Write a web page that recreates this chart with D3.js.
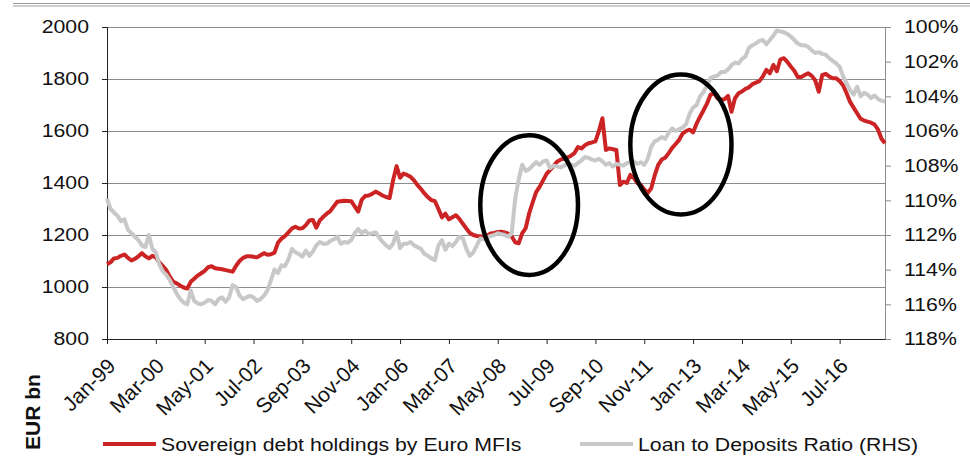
<!DOCTYPE html>
<html>
<head>
<meta charset="utf-8">
<script src="https://cdnjs.cloudflare.com/ajax/libs/d3/7.8.5/d3.min.js"></script>
<style>
body { margin: 0; background: #fff; }
text { font-family: "Liberation Sans", Arial, sans-serif; fill: #111; }
</style>
</head>
<body>
<div id="graph"></div>
<script>
// monthly, Jan-99 .. Aug-17
var startMonth = new Date(1999, 0, 1);
var months = d3.timeMonth.range(startMonth, new Date(2017, 8, 1)).map(d3.timeFormat('%b-%y'));

var tickLabels = ['Jan-99', 'Mar-00', 'May-01', 'Jul-02', 'Sep-03', 'Nov-04', 'Jan-06', 'Mar-07',
  'May-08', 'Jul-09', 'Sep-10', 'Nov-11', 'Jan-13', 'Mar-14', 'May-15', 'Jul-16'];
var leftTicks = [800, 1000, 1200, 1400, 1600, 1800, 2000];
var rightTicks = [100, 102, 104, 106, 108, 110, 112, 114, 116, 118];

// Sovereign debt holdings by Euro MFIs, EUR bn
var sovereign = [
  1088, 1095, 1110, 1112, 1120, 1125, 1112, 1102, 1108, 1118, 1130, 1118,
  1110, 1120, 1114, 1095, 1080, 1065, 1040, 1020, 1014, 1005, 998, 994,
  1020, 1032, 1044, 1053, 1062, 1076, 1080, 1072, 1070, 1068, 1065, 1062,
  1059, 1082, 1100, 1112, 1118, 1118, 1116, 1114, 1122, 1130, 1124, 1126,
  1132, 1170, 1186, 1196, 1210, 1225, 1232, 1225, 1226, 1238, 1256, 1258,
  1228, 1256, 1270, 1282, 1292, 1310, 1328, 1330, 1332, 1331, 1330, 1310,
  1290, 1335, 1350, 1352, 1358, 1367, 1360, 1352, 1346, 1342, 1410, 1465,
  1420, 1436, 1431, 1424, 1410, 1392, 1377, 1360, 1345, 1334, 1330, 1300,
  1268, 1282, 1260, 1268, 1276, 1262, 1243, 1225, 1208, 1200, 1196, 1195,
  1192, 1198, 1206, 1208, 1212, 1213, 1210, 1205, 1194, 1172, 1168, 1206,
  1226, 1283, 1325, 1365, 1385, 1410, 1435, 1450, 1465, 1482, 1490, 1494,
  1498, 1505, 1515, 1538, 1533, 1545, 1553, 1556, 1560, 1600, 1649, 1527,
  1533, 1530, 1527, 1392, 1405, 1400, 1431, 1420, 1400, 1392, 1375, 1362,
  1380, 1430, 1470, 1490, 1497, 1515, 1535, 1550, 1566, 1590, 1600, 1605,
  1595, 1628, 1655, 1680, 1706, 1740, 1745, 1725, 1720, 1722, 1735, 1674,
  1726, 1745, 1752, 1762, 1768, 1780, 1786, 1792, 1810, 1835, 1822, 1854,
  1830, 1875, 1880, 1866, 1848, 1832, 1808, 1808, 1815, 1822, 1812, 1795,
  1751, 1815, 1820, 1810, 1803, 1803, 1792, 1775, 1745, 1712, 1690, 1668,
  1647, 1640, 1636, 1632, 1625, 1605, 1570, 1553
];

// Loan to Deposits Ratio (RHS), %
var ltd = [
  109.9, 110.5, 110.7, 110.9, 111.2, 111.1, 111.7, 111.9, 112.1, 112.3, 112.6, 112.7,
  112.0, 112.8, 113.0, 113.7, 114.1, 114.3, 114.6, 115.0, 115.4, 115.7, 115.9, 116.0,
  115.2, 115.8, 115.95, 116.0, 115.9, 115.75, 115.8, 116.0, 115.7, 115.6, 115.85, 115.6,
  114.9, 115.0, 115.5, 115.7, 115.6, 115.5, 115.6, 115.8, 115.7, 115.5, 115.2, 114.6,
  114.0, 114.2, 113.75, 113.8, 113.4, 112.8, 113.0, 113.1, 113.25, 112.9, 113.2, 112.95,
  112.6, 112.4, 112.5, 112.5, 112.35, 112.25, 112.1, 112.5, 112.4, 112.45, 112.3, 111.9,
  111.65, 111.9, 111.75, 111.95, 111.9, 111.85, 112.15, 112.4, 112.6, 112.75, 112.5, 111.85,
  112.75, 112.5, 112.5, 112.4, 112.6, 112.7, 112.8, 113.1, 113.2, 113.35, 113.45, 112.6,
  112.3, 112.85, 112.5, 112.65, 112.4, 112.1, 112.2, 112.8, 113.2, 113.0, 112.6, 112.2,
  112.25, 112.15, 112.05, 112.0, 111.9, 111.95, 112.0, 112.1, 111.9, 109.9, 108.8, 107.95,
  108.3, 108.2, 108.0, 107.8, 107.95, 107.75, 107.7, 108.15, 108.0, 108.05, 108.1, 108.0,
  107.9, 107.95, 108.0, 107.85, 107.7, 107.5, 107.55, 107.65, 107.7, 107.6, 107.75, 107.95,
  107.85, 108.05, 107.9, 107.95, 108.0, 107.85, 107.8, 107.75, 107.9, 107.8, 107.95, 107.6,
  106.9, 106.6, 106.5, 106.35, 106.45, 106.1, 105.85, 106.0, 105.9, 105.8, 105.6, 105.0,
  104.65, 104.5, 104.0, 103.75, 103.35, 102.95, 102.85, 102.8, 102.6, 102.6, 102.45, 102.2,
  102.05, 102.1, 101.85, 101.7, 101.2, 101.05, 100.95, 100.8, 100.75, 101.0, 100.75, 100.5,
  100.2, 100.25, 100.3, 100.4, 100.55, 100.75, 100.95, 101.05, 101.05, 101.15, 101.35, 101.5,
  101.45, 101.55, 101.6, 101.8, 101.95, 102.1, 102.3, 102.85, 103.25, 103.65, 103.9, 103.45,
  104.0, 103.8, 103.9, 104.1, 103.95, 104.15, 104.25, 104.3
];

// periods circled on the chart: month range and EUR bn range
var highlights = [
  {from: 'Dec-07', to: 'Apr-10', low: 1046, high: 1584},
  {from: 'Jul-11', to: 'Dec-13', low: 1279, high: 1817}
];

var svgWidth = 970, svgHeight = 456,
  margin = {top: 27, right: 85, bottom: 117, left: 107},
  width = svgWidth - margin.left - margin.right,
  height = svgHeight - margin.top - margin.bottom,
  sx = 1.15; // text is drawn a bit wide in the original

var svg = d3.select('#graph').append('svg').attr('width', svgWidth).attr('height', svgHeight);

// double rule at the top
svg.selectAll('.rule').data([3.5, 6]).enter().append('line')
  .attr('x1', 13).attr('x2', svgWidth).attr('y1', function(d) { return d; }).attr('y2', function(d) { return d; })
  .attr('stroke', '#9a9a9a').attr('stroke-width', 1);

var g = svg.append('g').attr('transform', 'translate(' + margin.left + ',' + margin.top + ')');

var x = d3.scalePoint().domain(months).range([0, width]);
var xi = function(m) { return x(m); };
var y = d3.scaleLinear().domain([800, 2000]).range([height, 0]);
var y2 = d3.scaleLinear().domain([100, 118]).range([0, height]);

// gridlines
g.selectAll('.grid').data(leftTicks.slice(1)).enter().append('line')
  .attr('x1', 0).attr('x2', width)
  .attr('y1', function(d) { return y(d) + 0.5; }).attr('y2', function(d) { return y(d) + 0.5; })
  .attr('stroke', '#8c8c8c').attr('stroke-width', 1);

// left axis
var ax = g.append('g').attr('class', 'axis axis-y')
  .call(d3.axisLeft(y).tickValues(leftTicks).tickSize(5).tickPadding(13).tickFormat(d3.format('d')));
ax.select('.domain').attr('stroke', '#222');
ax.selectAll('.tick line').attr('stroke', '#222');
ax.selectAll('text').attr('x', -18 / sx).attr('transform', 'scale(' + sx + ',1)')
  .style('font-size', '18.5px').style('font-family', '"Liberation Sans", Arial, sans-serif').attr('fill', '#111');

// right axis
var ar = g.append('g').attr('class', 'axis axis-y2').attr('transform', 'translate(' + width + ',0)')
  .call(d3.axisRight(y2).tickValues(rightTicks).tickSize(6).tickSizeOuter(6).tickPadding(13)
    .tickFormat(function(d) { return d + '%'; }));
ar.select('.domain').attr('stroke', '#8c8c8c');
ar.selectAll('.tick line').attr('stroke', '#8c8c8c');
ar.selectAll('text').attr('x', 19 / sx).attr('transform', 'scale(' + sx + ',1)')
  .style('font-size', '18.5px').style('font-family', '"Liberation Sans", Arial, sans-serif').attr('fill', '#111');

// series
var line = d3.line()
  .x(function(d, i) { return x(months[i]); })
  .y(function(d) { return y(d); });

var line2 = d3.line()
  .x(function(d, i) { return x(months[i]); })
  .y(function(d) { return y2(d); });

g.append('path').datum(sovereign).attr('class', 'line')
  .attr('fill', 'none').attr('stroke', '#cc2424').attr('stroke-width', 4).attr('stroke-linejoin', 'round')
  .attr('d', line);

g.append('path').datum(ltd).attr('class', 'line')
  .attr('fill', 'none').attr('stroke', '#c8c8c8').attr('stroke-width', 4).attr('stroke-linejoin', 'round')
  .attr('d', line2);

// bottom axis
var axb = g.append('g').attr('class', 'axis axis-x').attr('transform', 'translate(0,' + height + ')')
  .call(d3.axisBottom(x).tickValues(tickLabels).tickSize(5).tickSizeOuter(0));
axb.select('.domain').attr('stroke', '#222');
axb.selectAll('.tick line').attr('stroke', '#222');
axb.selectAll('text')
  .attr('x', 0).attr('y', 0).attr('dy', '0.35em')
  .attr('transform', 'translate(4,23) rotate(-45)')
  .style('text-anchor', 'end')
  .style('font-size', '21px').style('font-family', '"Liberation Sans", Arial, sans-serif').attr('fill', '#111');

// circled periods
g.selectAll('.ring').data(highlights).enter().append('ellipse')
  .attr('class', 'ring')
  .attr('cx', function(d) { return (xi(d.from) + xi(d.to)) / 2; })
  .attr('cy', function(d) { return (y(d.low) + y(d.high)) / 2; })
  .attr('rx', function(d) { return (xi(d.to) - xi(d.from)) / 2; })
  .attr('ry', function(d) { return (y(d.low) - y(d.high)) / 2; })
  .attr('fill', 'none').attr('stroke', '#000').attr('stroke-width', 4.5);

// axis title
svg.append('text')
  .attr('transform', 'translate(40,412) rotate(-90)')
  .style('text-anchor', 'middle')
  .style('font-weight', 'bold')
  .style('font-size', '21px')
  .text('EUR bn');

// legend
var legend = [
  {name: 'Sovereign debt holdings by Euro MFIs', color: '#cc2424', x: 103},
  {name: 'Loan to Deposits Ratio (RHS)', color: '#c8c8c8', x: 580}
];
var lg = svg.selectAll('.legend').data(legend).enter().append('g')
  .attr('class', 'legend')
  .attr('transform', function(d) { return 'translate(' + d.x + ',444)'; });
lg.append('line').attr('x1', 0).attr('x2', 53).attr('y1', 0).attr('y2', 0)
  .attr('stroke', function(d) { return d.color; }).attr('stroke-width', 4);
lg.append('text')
  .attr('x', 58 / sx).attr('y', 7)
  .attr('transform', 'scale(' + sx + ',1)')
  .style('font-size', '18.5px')
  .text(function(d) { return d.name; });
</script>
</body>
</html>
